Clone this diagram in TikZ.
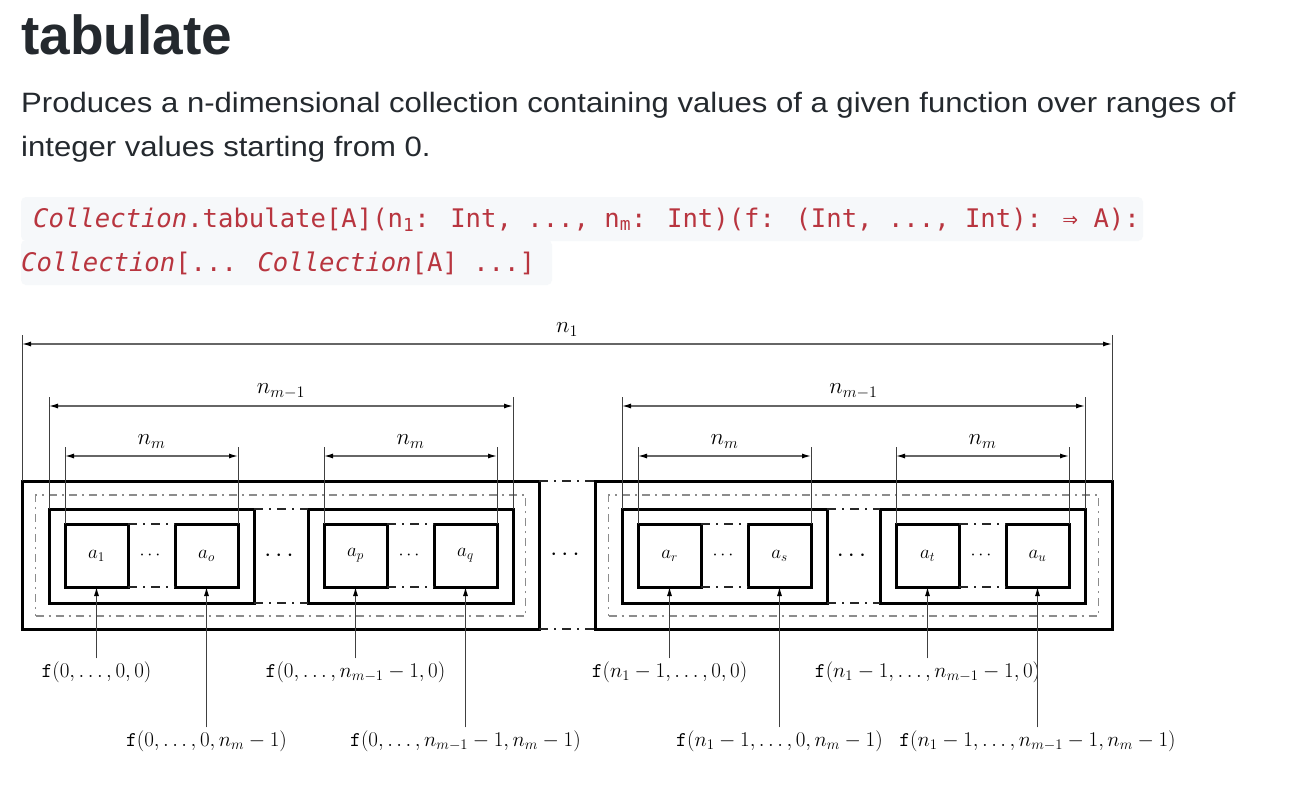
\RequirePackage{fix-cm}
\documentclass[tikz,border=0pt]{standalone}
\usepackage{fontspec}
\usepackage{amsmath}
\usepackage{tikz}
\usetikzlibrary{arrows.meta}
\newfontfamily\docFont[FakeStretch=1.11]{Liberation Sans}
\newfontfamily\titleFont{Liberation Sans}
\newfontfamily\codeFont{DejaVu Sans Mono}
\definecolor{textColor}{HTML}{24292E}
\definecolor{codeColor}{HTML}{B8353F}
\definecolor{codeBack}{HTML}{F6F8FA}

\begin{document}
\begin{tikzpicture}[x=1pt, y=-1pt,
    txt/.style={anchor=base west, inner sep=0pt, text=textColor},
    sig/.style={anchor=base west, inner sep=0pt, text=codeColor,
        font=\codeFont\fontsize{25.6}{30}\selectfont},
    outerbox/.style={draw, line width=3pt, inner sep=0pt, outer sep=0pt,
        minimum width=517pt, minimum height=148pt},
    frame/.style={draw=black!45, line width=1.3pt, inner sep=0pt, outer sep=0pt,
        dash pattern=on 8pt off 5pt on 2pt off 5pt,
        minimum width=490pt, minimum height=121pt},
    groupbox/.style={draw, line width=3pt, inner sep=0pt, outer sep=0pt,
        minimum width=205pt, minimum height=94pt},
    cell/.style={draw, line width=3pt, inner sep=0pt, outer sep=0pt,
        minimum size=63pt, font=\fontsize{19}{22}\selectfont},
    gap/.style={black!85, line width=1.1pt, dash pattern=on 9pt off 6pt on 2pt off 6pt},
    dots/.style={inner sep=0pt},
    ext/.style={black!75, line width=0.9pt, shorten >=-9pt},
    dim/.style={black!60, line width=1.2pt,
        {Latex[length=9pt,width=5pt,black]}-{Latex[length=9pt,width=5pt,black]}},
    dimlabel/.style={black, inner sep=2pt, font=\fontsize{23}{27}\selectfont},
    flabel/.style={inner sep=3pt, font=\fontsize{21}{25}\selectfont},
    feed/.style={black!75, line width=1pt, -{Latex[length=9pt,width=5pt,black]}}
]
\useasboundingbox[fill=white] (0,0) rectangle (1298,808);

% heading and description
\node[txt, font=\titleFont\bfseries\fontsize{55}{60}\selectfont] (title) at (21,55) {tabulate};
\node[txt, font=\docFont\fontsize{28}{32}\selectfont] (desc1) at (21,112)
    {Produces a n-dimensional collection containing values of a given function over ranges of};
\node[txt, font=\docFont\fontsize{28}{32}\selectfont] (desc2) at (21,156)
    {integer values starting from 0.};

% signature
\fill[codeBack, rounded corners=5pt] (21,197) rectangle (1143,241);
\fill[codeBack, rounded corners=5pt] (21,240) rectangle (552,285);
\node[sig] (sig1) at (33,227)
    {\textit{Collection}.tabulate[A](n\textsubscript{1}: Int, ..., n\textsubscript{m}: Int)(f: (Int, ..., Int): ⇒ A):};
\node[sig] (sig2) at (21,271)
    {\textit{Collection}[... \textit{Collection}[A] ...]};

% boxes
\foreach \n/\x in {1/280.5, 2/853.5}
    \node[outerbox] (o\n) at (\x,555) {};
\foreach \n/\x in {1/280.5, 2/853.5}
    \node[frame] (fr\n) at (\x,555.5) {};
\foreach \n/\x in {1/151.5, 2/410.5, 3/724.5, 4/982.5}
    \node[groupbox] (g\n) at (\x,556) {};
\foreach \n/\x/\s in {1/96.5/1, 2/206.5/o, 3/355.5/p, 4/465.5/q,
                      5/669.5/r, 6/779.5/s, 7/927.5/t, 8/1037.5/u}
    \node[cell] (c\n) at (\x,555.5) {$a_\s$};

% gaps between boxes
\foreach \l/\r in {c1/c2, c3/c4, c5/c6, c7/c8, g1/g2, g3/g4, o1/o2} {
    \draw[gap] (\l.north east) -- (\r.north west);
    \draw[gap] (\l.south east) -- (\r.south west);
}
\foreach \l/\r in {c1/c2, c3/c4, c5/c6, c7/c8}
    \path (\l) -- (\r) node[midway, dots, font=\fontsize{18}{21}\selectfont] (d\l) {$\cdots$};
\foreach \l/\r in {g1/g2, g3/g4, o1/o2}
    \path (\l) -- (\r) node[midway, dots, font=\fontsize{25}{29}\selectfont] (d\l) {$\cdots$};

% dimensions
\foreach \l/\r/\y/\t in {o1/o2/344/n_1, g1/g2/406/n_{m-1}, g3/g4/406/n_{m-1},
                         c1/c2/456/n_m, c3/c4/456/n_m, c5/c6/456/n_m, c7/c8/456/n_m} {
    \coordinate (\l-dl) at (\l.north west |- 0,\y);
    \coordinate (\r-dr) at (\r.north east |- 0,\y);
    \draw[ext] (\l.north west) -- (\l-dl);
    \draw[ext] (\r.north east) -- (\r-dr);
    \draw[dim] (\l-dl) -- (\r-dr) node[midway, above=5pt, dimlabel] {$\t$};
}

% function values
\foreach \n/\y/\t in {
        1/672/{0,\ldots,0,0},
        2/741/{0,\ldots,0,n_m-1},
        3/672/{0,\ldots,n_{m-1}-1,0},
        4/741/{0,\ldots,n_{m-1}-1,n_m-1},
        5/672/{n_1-1,\ldots,0,0},
        6/741/{n_1-1,\ldots,0,n_m-1},
        7/672/{n_1-1,\ldots,n_{m-1}-1,0},
        8/741/{n_1-1,\ldots,n_{m-1}-1,n_m-1}} {
    \node[flabel] (f\n) at (c\n.south |- 0,\y) {$\texttt{f}(\t)$};
    \draw[feed] (f\n) -- (c\n);
}
\end{tikzpicture}
\end{document}
